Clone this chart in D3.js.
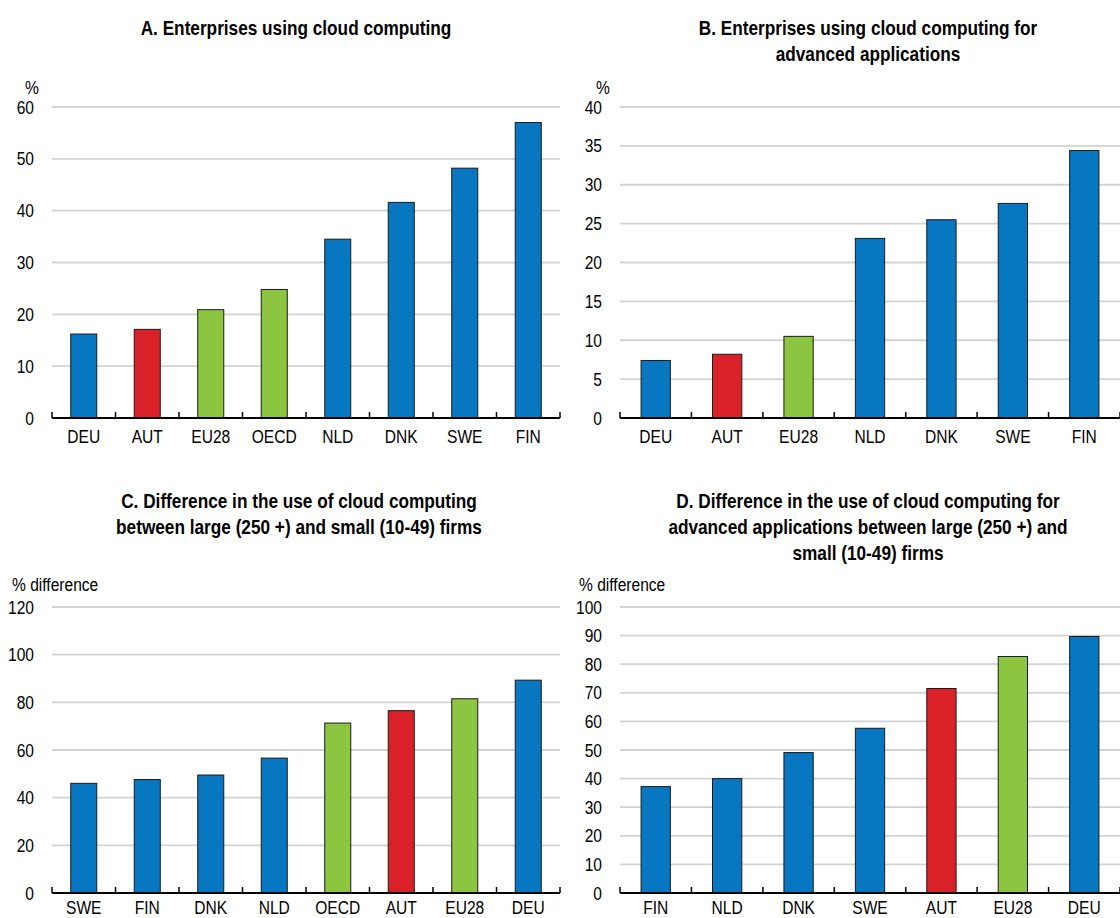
<!DOCTYPE html>
<html>
<head>
<meta charset="utf-8">
<script src="https://cdn.jsdelivr.net/npm/d3@7"></script>
<style>
  html, body { margin: 0; padding: 0; background: #fff; }
  svg { display: block; font-family: "Liberation Sans", Arial, sans-serif; }
</style>
</head>
<body>
<svg id="chart" width="1120" height="918"></svg>
<script>
// ---- data ----
const catsA = ["DEU", "AUT", "EU28", "OECD", "NLD", "DNK", "SWE", "FIN"];
const valsA = [16.2, 17.1, 20.9, 24.8, 34.5, 41.6, 48.2, 57.0];
const ticksA = [0, 10, 20, 30, 40, 50, 60];

const catsB = ["DEU", "AUT", "EU28", "NLD", "DNK", "SWE", "FIN"];
const valsB = [7.4, 8.2, 10.5, 23.1, 25.5, 27.6, 34.4];
const ticksB = [0, 5, 10, 15, 20, 25, 30, 35, 40];

const catsC = ["SWE", "FIN", "DNK", "NLD", "OECD", "AUT", "EU28", "DEU"];
const valsC = [46.0, 47.6, 49.5, 56.6, 71.3, 76.5, 81.5, 89.3];
const ticksC = [0, 20, 40, 60, 80, 100, 120];

const catsD = ["FIN", "NLD", "DNK", "SWE", "AUT", "EU28", "DEU"];
const valsD = [37.2, 40.0, 49.1, 57.6, 71.5, 82.7, 89.7];
const ticksD = [0, 10, 20, 30, 40, 50, 60, 70, 80, 90, 100];

const titleA = ["A. Enterprises using cloud computing"];
const titleB = ["B. Enterprises using cloud computing for", "advanced applications"];
const titleC = ["C. Difference in the use of cloud computing", "between large (250 +) and small (10-49) firms"];
const titleD = ["D. Difference in the use of cloud computing for", "advanced applications between large (250 +) and", "small (10-49) firms"];

// ---- style ----
const BLUE = "#0777c1", RED = "#da2128", GREEN = "#8cc640";
function barColor(c) {
  if (c === "AUT") return RED;
  if (c === "EU28" || c === "OECD") return GREEN;
  return BLUE;
}
const SX = 0.82; // narrow font
const svg = d3.select("#chart");

function narrowText(g, x, y, str, opts) {
  return g.append("text")
    .attr("transform", `translate(${x},${y}) scale(${SX},1)`)
    .attr("text-anchor", opts.anchor || "start")
    .attr("font-size", opts.size)
    .attr("font-weight", opts.weight || "normal")
    .attr("fill", "#000")
    .text(str);
}

function panel(cfg) {
  const g = svg.append("g");
  const x = d3.scaleBand().domain(cfg.cats).range([cfg.x0, cfg.x1]).padding(0);
  const y = d3.scaleLinear().domain([0, cfg.max]).range([cfg.yBase, cfg.yTop]);

  cfg.title.forEach((line, i) => {
    narrowText(g, cfg.titleX, cfg.titleY + i * 26, line, { anchor: "middle", size: 21, weight: "bold" });
  });
  narrowText(g, cfg.unitX, cfg.unitY, cfg.unit, { anchor: "start", size: 19 });

  g.append("g").selectAll("line").data(cfg.ticks.filter(d => d > 0)).join("line")
    .attr("x1", cfg.x0).attr("x2", cfg.x1)
    .attr("y1", d => y(d)).attr("y2", d => y(d))
    .attr("stroke", "#d3d3d3").attr("stroke-width", 1.8);

  const ya = g.append("g").attr("transform", `translate(${cfg.x0},0)`)
    .call(d3.axisLeft(y).tickValues(cfg.ticks).tickSize(0).tickPadding(18 / SX).tickFormat(d3.format("d")));
  ya.select(".domain").remove();
  ya.selectAll("text").attr("font-size", 19).attr("font-family", null).attr("fill", "#000")
    .attr("transform", `scale(${SX},1)`);

  const bw = x.bandwidth() * 0.41;
  g.append("g").selectAll("rect").data(cfg.cats.map((c, i) => ({ c, v: cfg.vals[i] }))).join("rect")
    .attr("x", d => x(d.c) + (x.bandwidth() - bw) / 2)
    .attr("width", bw)
    .attr("y", d => y(d.v))
    .attr("height", d => y(0) - y(d.v))
    .attr("fill", d => barColor(d.c))
    .attr("stroke", "#1a1a1a").attr("stroke-width", 1);

  const xa = g.append("g").attr("transform", `translate(0,${cfg.yBase})`)
    .call(d3.axisBottom(x).tickSize(0).tickPadding(cfg.labPad));
  xa.select(".domain").remove();
  xa.selectAll("text").attr("font-size", 19).attr("font-family", null).attr("fill", "#000")
    .attr("transform", `scale(${SX},1)`);

  g.append("line").attr("x1", cfg.x0).attr("x2", cfg.x1).attr("y1", y(0)).attr("y2", y(0))
    .attr("stroke", "#000").attr("stroke-width", 2);
  const bounds = cfg.cats.map(c => x(c)).concat([x(cfg.cats[cfg.cats.length - 1]) + x.bandwidth()]);
  g.append("g").selectAll("line").data(bounds).join("line")
    .attr("x1", d => d).attr("x2", d => d)
    .attr("y1", y(0)).attr("y2", y(0) - 6)
    .attr("stroke", "#000").attr("stroke-width", 1.5);
}

panel({ cats: catsA, vals: valsA, ticks: ticksA, max: 60, x0: 52, x1: 560, yBase: 418, yTop: 107, labPad: 11.5,
  title: titleA, titleX: 296, titleY: 35, unit: "%", unitX: 25, unitY: 94 });
panel({ cats: catsB, vals: valsB, ticks: ticksB, max: 40, x0: 620, x1: 1120, yBase: 418, yTop: 107, labPad: 11.5,
  title: titleB, titleX: 868, titleY: 35, unit: "%", unitX: 596, unitY: 94 });
panel({ cats: catsC, vals: valsC, ticks: ticksC, max: 120, x0: 52, x1: 560, yBase: 893, yTop: 607, labPad: 8,
  title: titleC, titleX: 299, titleY: 508, unit: "% difference", unitX: 12, unitY: 591 });
panel({ cats: catsD, vals: valsD, ticks: ticksD, max: 100, x0: 620, x1: 1120, yBase: 893, yTop: 607, labPad: 8,
  title: titleD, titleX: 868, titleY: 508, unit: "% difference", unitX: 579, unitY: 591 });
</script>
</body>
</html>
